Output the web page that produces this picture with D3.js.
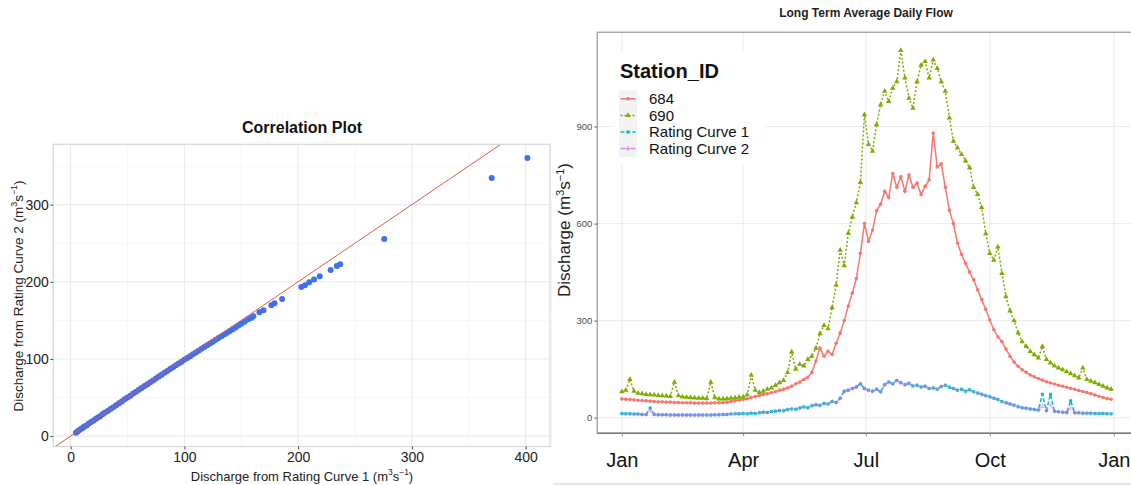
<!DOCTYPE html>
<html lang="en">
<head>
<meta charset="UTF-8">
<title>Correlation and daily flow</title>
<script src="https://cdn.jsdelivr.net/npm/d3@7"></script>
<style>
    body {margin: 0; background: #fff;}
    text {font-family: "Liberation Sans", Arial, sans-serif;}
</style>
</head>
<body>
<svg id="chart" width="1131" height="485"></svg>

<script>
// ---- data: correlation plot (rating curve 1 vs rating curve 2) ----
var corrX = [4.6, 6, 7.5, 9, 10.5, 12, 14, 16, 18, 20, 22, 24, 26, 28, 30, 32.5, 35, 37.5, 40, 42.5,
    45, 47.5, 50, 52.5, 55, 57.5, 60, 62.5, 65, 67.5, 70, 72.5, 75, 77.5, 80, 82.5, 85, 87.5, 90, 92.5,
    95, 97.5, 100, 102.5, 105, 107.5, 110, 112.5, 115, 117.5, 120, 122.5, 125, 127.5, 130, 132.5, 135, 137.5, 140, 142.5,
    145, 147.5, 150, 153, 156, 158.6, 160.7, 166, 169.5, 176.5, 179.3, 185.9, 202.8, 206, 209.7, 214, 219, 228.6, 234, 237,
    275.7, 370.2, 401.6];
var corrY = [4.3, 5.8, 7.6, 9.2, 10.4, 12.3, 13.8, 16.2, 18.1, 19.8, 22.3, 24.1, 25.8, 28.2, 30.1, 32.4, 35.2, 37.4, 40.1, 42.6,
    44.8, 47.6, 50.1, 52.3, 55.1, 57.4, 59.9, 62.4, 64.8, 67.3, 69.8, 72.2, 74.7, 77.1, 79.6, 82.0, 84.4, 86.9, 89.3, 91.7,
    94.1, 96.5, 98.9, 101.3, 103.6, 106.0, 108.4, 110.7, 113.1, 115.4, 117.8, 120.1, 122.4, 124.8, 127.1, 129.4, 131.7, 134.0, 136.3, 138.6,
    140.9, 143.2, 145.6, 148.2, 151.5, 153.2, 155.4, 160.5, 163, 169.6, 172.2, 177.8, 193.4, 195.5, 199.4, 202.8, 207.2, 215.4, 220.5, 222.7,
    255.5, 334.5, 360.4];

// ---- data: long term average daily flow, one value every 3 days from 1 Jan ----
var dayStep = 3;
var flow684 = [58, 57, 56, 55, 54, 53, 52, 51, 50, 49,
    49, 48, 48, 47, 47, 46, 46, 46, 45, 45,
    45, 45, 45, 46, 46, 47, 48, 50, 52, 54,
    56, 58, 62, 65, 68, 72, 74, 77, 80, 85,
    88, 92, 97, 105, 110, 118, 125, 140, 175, 215,
    190, 205, 195, 230, 262, 300, 345, 385, 430, 508,
    600, 545, 580, 640, 660, 700, 680, 755, 712, 745,
    700, 750, 712, 725, 690, 715, 735, 880, 775, 785,
    712, 641, 600, 540, 505, 477, 450, 426, 395, 365,
    335, 302, 272, 250, 235, 212, 190, 172, 159, 148,
    140, 132, 126, 121, 116, 111, 107, 104, 100, 97,
    94, 91, 88, 84, 81, 78, 74, 70, 66, 62,
    59, 57];
var flow690 = [80, 85, 118, 82, 76, 74, 72, 71, 70, 69,
    68, 67, 66, 110, 68, 64, 63, 62, 61, 60,
    60, 59, 110, 62, 58, 58, 59, 60, 61, 63,
    64, 70, 131, 85, 78, 82, 88, 92, 100, 108,
    115, 140, 203, 150, 165, 160, 180, 190, 215, 260,
    285, 275, 340, 410, 518, 470, 570, 620, 665, 727,
    937, 845, 824, 906, 968, 1009, 978, 1019, 1039, 1135,
    1050, 988, 957, 1039, 1090, 1101, 1050, 1106, 1080, 1039,
    1009, 927, 855, 834, 814, 794, 773, 712, 690, 650,
    569, 508, 487, 528, 446, 374, 330, 300, 262, 235,
    220, 205, 195, 185, 220, 180, 169, 160, 154, 148,
    142, 136, 130, 123, 154, 118, 113, 108, 103, 97,
    92, 88];
var flowRC1 = [13, 12, 12, 11, 11, 10, 10, 30, 10, 9,
    9, 9, 8, 8, 8, 8, 8, 8, 8, 8,
    8, 8, 8, 9, 9, 10, 10, 11, 12, 12,
    13, 12, 14, 13, 15, 17, 16, 19, 20, 22,
    21, 25, 27, 26, 30, 33, 31, 37, 40, 38,
    44, 42, 50, 47, 60, 82, 85, 90, 95, 105,
    90, 85, 82, 88, 80, 102, 110, 105, 115, 108,
    102, 106, 98, 100, 95, 97, 90, 92, 88, 96,
    100, 94, 90, 85, 88, 82, 86, 80, 76, 72,
    68, 65, 60, 56, 50, 46, 42, 38, 34, 31,
    29, 27, 25, 24, 72, 22, 72, 20, 18, 17,
    16, 52, 15, 15, 14, 14, 14, 13, 13, 13,
    12, 12];
var flowRC2 = [13, 12, 12, 11, 11, 10, 10, 22, 10, 9,
    9, 9, 8, 8, 8, 8, 8, 8, 8, 8,
    8, 8, 8, 9, 9, 10, 10, 11, 12, 12,
    13, 12, 14, 13, 15, 17, 16, 19, 20, 22,
    21, 25, 27, 26, 30, 33, 31, 37, 40, 38,
    44, 42, 50, 47, 60, 82, 85, 90, 95, 105,
    90, 85, 82, 88, 80, 102, 110, 105, 115, 108,
    102, 106, 98, 100, 95, 97, 90, 92, 88, 96,
    100, 94, 90, 85, 88, 82, 86, 80, 76, 72,
    68, 65, 60, 56, 50, 46, 42, 38, 34, 31,
    29, 27, 25, 24, 36, 22, 40, 20, 18, 17,
    16, 30, 15, 15, 14, 14, 14, 13, 13, 13,
    12, 12];

var stationNames = ["684", "690", "Rating Curve 1", "Rating Curve 2"];
var stationColors = ["#F8766D", "#7CAE00", "#00BFC4", "#C77CFF"];
var flowTicks = [0, 300, 600, 900];
var monthLabels = ["Jan", "Apr", "Jul", "Oct", "Jan"];

var svg = d3.select("#chart");

// ggplot style 5% expansion
function expand(ext) {
    var p = (ext[1] - ext[0]) * 0.05;
    return [ext[0] - p, ext[1] + p];
}

// superscript helper for the unit m3 s-1
function unitText(sel, before) {
    sel.append("tspan").text(before + " (m");
    sel.append("tspan").attr("dy", -6).attr("font-size", "0.65em").text("3");
    sel.append("tspan").attr("dy", 6).text("s");
    sel.append("tspan").attr("dy", -6).attr("font-size", "0.65em").text("\u22121");
    sel.append("tspan").attr("dy", 6).text(")");
}

// =============== LEFT: Correlation Plot ===============
var L = {x0: 53.3, x1: 550, y0: 144.3, y1: 446.5};

var xC = d3.scaleLinear().domain(expand(d3.extent(corrX))).range([L.x0, L.x1]);
var yC = d3.scaleLinear().domain(expand(d3.extent(corrY))).range([L.y1, L.y0]);

var xMajor = xC.ticks(5), yMajor = yC.ticks(4);
var xMinor = xC.ticks(10).filter(function(v){ return xMajor.indexOf(v) < 0; });
var yMinor = yC.ticks(10).filter(function(v){ return yMajor.indexOf(v) < 0; });

var gl = svg.append("g");

gl.selectAll(".xminor").data(xMinor).enter().append("line")
    .attr("x1", xC).attr("x2", xC).attr("y1", L.y0).attr("y2", L.y1)
    .attr("stroke", "#f5f5f5").attr("stroke-width", 0.8);
gl.selectAll(".yminor").data(yMinor).enter().append("line")
    .attr("y1", yC).attr("y2", yC).attr("x1", L.x0).attr("x2", L.x1)
    .attr("stroke", "#f5f5f5").attr("stroke-width", 0.8);
gl.selectAll(".xmajor").data(xMajor).enter().append("line")
    .attr("x1", xC).attr("x2", xC).attr("y1", L.y0).attr("y2", L.y1)
    .attr("stroke", "#ebebeb").attr("stroke-width", 1.1);
gl.selectAll(".ymajor").data(yMajor).enter().append("line")
    .attr("y1", yC).attr("y2", yC).attr("x1", L.x0).attr("x2", L.x1)
    .attr("stroke", "#ebebeb").attr("stroke-width", 1.1);

svg.append("clipPath").attr("id", "clipL").append("rect")
    .attr("x", L.x0).attr("y", L.y0).attr("width", L.x1 - L.x0).attr("height", L.y1 - L.y0);

var xd = xC.domain();

gl.selectAll(".pt").data(corrX).enter().append("circle")
    .attr("cx", function(d){ return xC(d); })
    .attr("cy", function(d, i){ return yC(corrY[i]); })
    .attr("r", 3)
    .attr("fill", "#3f6ff3");

// 1:1 line, drawn over the points as in the original
gl.append("line")
    .attr("clip-path", "url(#clipL)")
    .attr("x1", xC(xd[0])).attr("y1", yC(xd[0]))
    .attr("x2", xC(xd[1])).attr("y2", yC(xd[1]))
    .attr("stroke", "#e5564e").attr("stroke-width", 1);

gl.append("rect")
    .attr("x", L.x0).attr("y", L.y0).attr("width", L.x1 - L.x0).attr("height", L.y1 - L.y0)
    .attr("fill", "none").attr("stroke", "#d9d9d9").attr("stroke-width", 1.3);

var xAxisC = gl.append("g").attr("transform", "translate(0," + L.y1 + ")")
    .call(d3.axisBottom(xC).tickValues(xMajor).tickSize(3).tickPadding(3));
var yAxisC = gl.append("g").attr("transform", "translate(" + L.x0 + ",0)")
    .call(d3.axisLeft(yC).tickValues(yMajor).tickSize(3).tickPadding(1.5));
[xAxisC, yAxisC].forEach(function(a){
    a.select(".domain").remove();
    a.selectAll("line").attr("stroke", "#444");
    a.selectAll("text").attr("font-size", "14px").attr("fill", "#222")
        .attr("font-family", "Liberation Sans, Arial, sans-serif");
});

gl.append("text").attr("x", 302).attr("y", 133).attr("text-anchor", "middle")
    .attr("font-size", "16px").attr("font-weight", "bold").attr("fill", "#111")
    .text("Correlation Plot");

unitText(gl.append("text").attr("x", 302).attr("y", 481).attr("text-anchor", "middle")
    .attr("font-size", "13px").attr("fill", "#222"), "Discharge from Rating Curve 1");

unitText(gl.append("text").attr("transform", "translate(23,296) rotate(-90)").attr("text-anchor", "middle")
    .attr("font-size", "13.5px").attr("fill", "#222"), "Discharge from Rating Curve 2");

// =============== RIGHT: Long Term Average Daily Flow ===============
var R = {x0: 597.3, x1: 1137, y0: 32.3, y1: 433.3};
var start = new Date(2019, 0, 1);
var dates = flow684.map(function(d, i){ return d3.timeDay.offset(start, i * dayStep); });
var yearEnd = new Date(2019, 11, 31);
var span = (yearEnd - start) * 0.05;

var xF = d3.scaleTime()
    .domain([new Date(+start - span), new Date(+yearEnd + span)])
    .range([R.x0, R.x1]);
var allFlow = flow684.concat(flow690, flowRC1, flowRC2);
var yF = d3.scaleLinear().domain(expand(d3.extent(allFlow))).range([R.y1, R.y0]);

var monthTicks = xF.ticks(d3.timeMonth.every(3));

var gr = svg.append("g");

// faint outer image frame of the pasted figure
gr.append("line").attr("x1", 553).attr("x2", 1131).attr("y1", 484).attr("y2", 484)
    .attr("stroke", "#dcdcdc").attr("stroke-width", 1.5);
gr.append("line").attr("x1", 551).attr("x2", 551).attr("y1", 200).attr("y2", 447)
    .attr("stroke", "#f0f0f0").attr("stroke-width", 1.5);

gr.selectAll(".vgrid").data(monthTicks).enter().append("line")
    .attr("x1", xF).attr("x2", xF).attr("y1", R.y0).attr("y2", R.y1)
    .attr("stroke", "#ececec").attr("stroke-width", 1);
gr.selectAll(".hgrid").data(flowTicks).enter().append("line")
    .attr("y1", yF).attr("y2", yF).attr("x1", R.x0).attr("x2", R.x1)
    .attr("stroke", "#ececec").attr("stroke-width", 1);

svg.append("clipPath").attr("id", "clipR").append("rect")
    .attr("x", R.x0).attr("y", R.y0).attr("width", R.x1 - R.x0).attr("height", R.y1 - R.y0);

var series = [
    {name: stationNames[0], values: flow684, color: stationColors[0], dash: null, shape: "circle", opacity: 1},
    {name: stationNames[1], values: flow690, color: stationColors[1], dash: "2,2", shape: "triangle", opacity: 1},
    {name: stationNames[2], values: flowRC1, color: stationColors[2], dash: "4,2", shape: "square", opacity: 1},
    {name: stationNames[3], values: flowRC2, color: stationColors[3], dash: "5,2,1,2", shape: "plus", opacity: 0.55}
];

var line = d3.line()
    .x(function(d, i){ return xF(dates[i]); })
    .y(function(d){ return yF(d); });

function drawMarker(g, shape, color) {
    if (shape === "circle") {
        g.append("circle").attr("r", 1.8).attr("fill", color);
    } else if (shape === "triangle") {
        g.append("path").attr("d", d3.symbol(d3.symbolTriangle, 13)()).attr("fill", color);
    } else if (shape === "square") {
        g.append("path").attr("d", d3.symbol(d3.symbolSquare, 9)()).attr("fill", color);
    } else {
        g.append("path").attr("d", "M-2.3,0H2.3M0,-2.3V2.3").attr("stroke", color).attr("stroke-width", 1.1);
    }
}

var plot = gr.append("g").attr("clip-path", "url(#clipR)");
series.forEach(function(s){
    var sg = plot.append("g").attr("opacity", s.opacity);
    sg.append("path").datum(s.values)
        .attr("d", line)
        .attr("fill", "none")
        .attr("stroke", s.color)
        .attr("stroke-width", 1.5)
        .attr("stroke-dasharray", s.dash);
    sg.selectAll(".m").data(s.values).enter().append("g")
        .attr("transform", function(d, i){ return "translate(" + xF(dates[i]) + "," + yF(d) + ")"; })
        .each(function(){ drawMarker(d3.select(this), s.shape, s.color); });
});

// panel border
gr.append("rect")
    .attr("x", R.x0).attr("y", R.y0).attr("width", R.x1 - R.x0).attr("height", R.y1 - R.y0)
    .attr("fill", "none").attr("stroke", "#a6a6a6").attr("stroke-width", 1.4);
gr.append("line").attr("x1", R.x0).attr("x2", R.x1).attr("y1", R.y1).attr("y2", R.y1)
    .attr("stroke", "#7a7a7a").attr("stroke-width", 1.5);

// y axis
var yAxisF = gr.append("g").attr("transform", "translate(" + R.x0 + ",0)")
    .call(d3.axisLeft(yF).tickValues(flowTicks).tickSize(3).tickPadding(2));
yAxisF.select(".domain").remove();
yAxisF.selectAll("line").attr("stroke", "#666");
yAxisF.selectAll("text").attr("font-size", "9.5px").attr("fill", "#4d4d4d")
    .attr("font-family", "Liberation Sans, Arial, sans-serif");

// x axis
var xAxisF = gr.append("g").attr("transform", "translate(0," + R.y1 + ")")
    .call(d3.axisBottom(xF).tickValues(monthTicks).tickSize(3)
        .tickFormat(function(d, i){ return monthLabels[i]; }).tickPadding(17));
xAxisF.select(".domain").remove();
xAxisF.selectAll("line").attr("stroke", "#888");
xAxisF.selectAll("text").attr("font-size", "20px").attr("fill", "#111")
    .attr("font-family", "Liberation Sans Narrow, Liberation Sans, Arial, sans-serif");

gr.append("text").attr("x", 866).attr("y", 17).attr("text-anchor", "middle")
    .attr("font-size", "12px").attr("font-weight", "bold").attr("fill", "#222")
    .text("Long Term Average Daily Flow");

unitText(gr.append("text").attr("transform", "translate(570,230) rotate(-90)").attr("text-anchor", "middle")
    .attr("font-size", "17px").attr("fill", "#222"), "Discharge");

// legend
var lg = gr.append("g");
lg.append("rect").attr("x", 612).attr("y", 52).attr("width", 153).attr("height", 112).attr("fill", "#fff");
lg.append("text").attr("x", 620).attr("y", 78).attr("font-size", "20px").attr("font-weight", "bold")
    .attr("fill", "#111").text("Station_ID");

var rowH = 16.6, rowTop = 90.5;
series.forEach(function(s, i){
    var cy = rowTop + rowH * i + rowH / 2;
    var row = lg.append("g");
    row.append("rect").attr("x", 619).attr("y", rowTop + rowH * i).attr("width", 18).attr("height", rowH)
        .attr("fill", "#f2f2f2");
    var k = row.append("g").attr("opacity", s.opacity === 1 ? 1 : 0.8);
    k.append("line").attr("x1", 620.5).attr("x2", 635.5).attr("y1", cy).attr("y2", cy)
        .attr("stroke", s.color).attr("stroke-width", 1.5).attr("stroke-dasharray", s.dash);
    drawMarker(k.append("g").attr("transform", "translate(628," + cy + ")"), s.shape, s.color);
    row.append("text").attr("x", 649).attr("y", cy + 5.3).attr("font-size", "15px").attr("fill", "#111")
        .text(s.name);
});
</script>
</body>
</html>
